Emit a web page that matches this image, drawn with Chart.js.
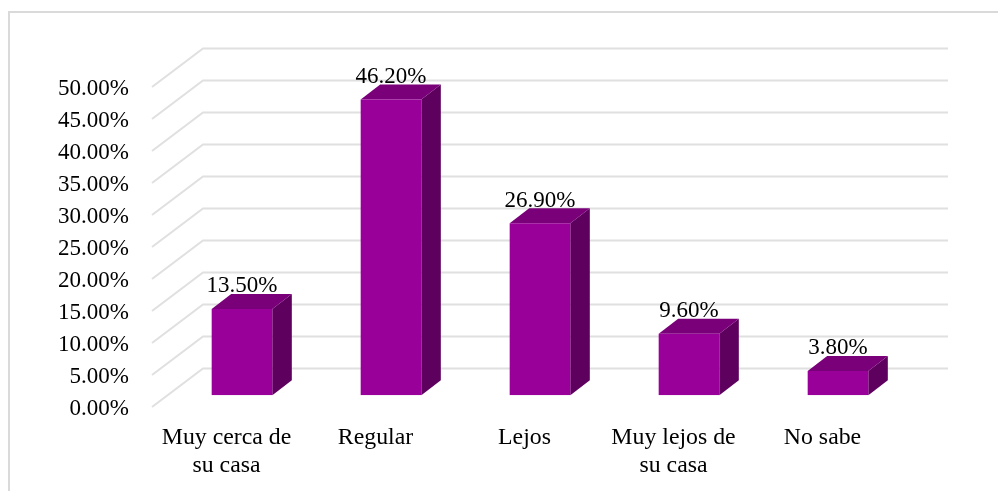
<!DOCTYPE html>
<html>
<head>
<meta charset="utf-8">
<style>
html,body{margin:0;padding:0;background:#fff;overflow:hidden}
canvas{display:block;filter:blur(0.5px)}
</style>
<script src="https://cdn.jsdelivr.net/npm/chart.js@4"></script>
</head>
<body>
<canvas id="c" width="998" height="491"></canvas>
<script>
const categories = [["Muy cerca de","su casa"],"Regular","Lejos",["Muy lejos de","su casa"],"No sabe"];
const values = [13.5,46.2,26.9,9.6,3.8];
const axisMax = 50;
const axisStep = 5;
const colFront = "#990099", colTop = "#7a007a", colSide = "#5e005e", colGrid = "#e0e0e0", colFrame = "#dadada";
const FONT = '"Liberation Serif","Times New Roman",serif';
const FS = 23, FSX = 23.8;
// 3D projection (pixels): scale-to-drawing shift, wall depth, bar plane offset, bar depth
const lift = -2;
const wall = {dx:51, dy:-38.5};
const plane = {dx:15.5, dy:-11.7+lift};
const depth = {dx:19.5, dy:-15};

const scene3d = {
  id:"scene3d",
  beforeDraw(chart){
    const c = chart.ctx;
    c.save();
    c.fillStyle="#fff"; c.fillRect(0,0,chart.width,chart.height);
    c.strokeStyle=colFrame; c.lineWidth=2;
    c.beginPath(); c.moveTo(9,chart.height); c.lineTo(9,12); c.lineTo(chart.width,12); c.stroke();
    c.restore();
  },
  beforeDatasetsDraw(chart){
    const c = chart.ctx, y = chart.scales.y, a = chart.chartArea;
    c.save();
    c.strokeStyle=colGrid; c.lineWidth=2;
    y.ticks.forEach(t=>{
      const py = y.getPixelForValue(t.value)+lift;
      c.beginPath();
      c.moveTo(a.left,py);
      c.lineTo(a.left+wall.dx,py+wall.dy);
      c.lineTo(a.right+wall.dx,py+wall.dy);
      c.stroke();
    });
    chart.getDatasetMeta(0).data.forEach(b=>{
      const p = b.getProps(["x","y","base","width"],true);
      const l = p.x-p.width/2+plane.dx, r = p.x+p.width/2+plane.dx;
      const t = p.y+plane.dy, bt = p.base+plane.dy;
      c.fillStyle=colSide;
      c.beginPath(); c.moveTo(r,t); c.lineTo(r+depth.dx,t+depth.dy); c.lineTo(r+depth.dx,bt+depth.dy); c.lineTo(r,bt); c.closePath(); c.fill();
      c.fillStyle=colTop;
      c.beginPath(); c.moveTo(l,t); c.lineTo(l+depth.dx,t+depth.dy); c.lineTo(r+depth.dx,t+depth.dy); c.lineTo(r,t); c.closePath(); c.fill();
    });
    c.restore();
    c.save();
    c.translate(plane.dx,plane.dy);
  },
  afterDatasetsDraw(chart){
    const c = chart.ctx;
    c.restore();
    c.save();
    c.font = FS+"px "+FONT; c.fillStyle="#000"; c.textAlign="center"; c.textBaseline="alphabetic";
    chart.getDatasetMeta(0).data.forEach((b,i)=>{
      const p = b.getProps(["x","y"],true);
      c.fillText(values[i].toFixed(2)+"%",p.x+plane.dx,p.y+plane.dy-16.5);
    });
    c.restore();
  }
};

new Chart(document.getElementById("c"),{
  type:"bar",
  data:{labels:categories,datasets:[{data:values,backgroundColor:colFront,borderWidth:0,barPercentage:0.407,categoryPercentage:1}]},
  options:{
    responsive:false,animation:false,
    layout:{padding:{top:89,right:101,left:0,bottom:0}},
    plugins:{legend:{display:false},tooltip:{enabled:false}},
    scales:{
      x:{grid:{display:false},border:{display:false},
         ticks:{color:"#000",font:{family:FONT,size:FSX,lineHeight:1.16},padding:7,maxRotation:0,autoSkip:false},
         afterFit(s){s.height=82;}},
      y:{min:0,max:axisMax,grid:{display:false},border:{display:false},
         ticks:{stepSize:axisStep,color:"#000",font:{family:FONT,size:FS},padding:15,callback:v=>v.toFixed(2)+"%"},
         afterFit(s){s.width=152;}}
    }
  },
  plugins:[scene3d]
});
</script>
</body>
</html>
